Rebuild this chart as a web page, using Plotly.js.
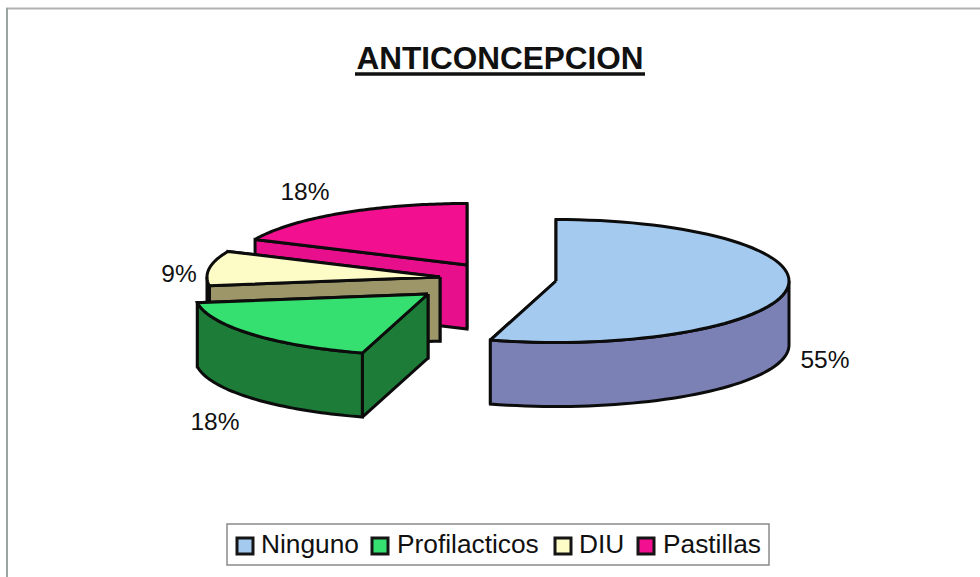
<!DOCTYPE html>
<html><head><meta charset="utf-8">
<script src="https://cdn.plot.ly/plotly-3.0.1.min.js"></script>
<style>html,body{margin:0;padding:0;background:#fff}#c{width:980px;height:577px}</style>
</head><body><div id="c"></div>
<script>
// Data
var categories = ['Ninguno','Profilacticos','DIU','Pastillas'];
var counts = [6,2,1,2];
// Styles
var topColors = ['#a4caef','#35e070','#fdfbc6','#f20f90'];
var wallColors = ['#7b80b5','#1c7c38','#9c9668','#e80f8c'];
// Layout of the exploded solid, in page pixels
var apexX = [556,428,440,467], apexY = [281,294,277,265];
var RX = 233, RY = 61.5, DEPTH = 64;
var labelX = [825,215,179,305], labelY = [362,424,276,194];
var legendMarkX = [245,380,563,646], legendTextX = [261,397,579,663], legendY = 546;

var total = counts.reduce(function(a,b){return a+b;},0);
var start = [], sum = 0;
counts.forEach(function(v,i){ start.push(sum/total*360); sum += v; });

function rim(i,deg,drop){
  var r = deg*Math.PI/180;
  return [apexX[i]+RX*Math.sin(r), apexY[i]-RY*Math.cos(r)+(drop||0)];
}
function poly(pts,fill,name){
  var xs = pts.map(function(p){return p[0];}), ys = pts.map(function(p){return p[1];});
  xs.push(xs[0]); ys.push(ys[0]);
  return {type:'scatter',mode:'lines',x:xs,y:ys,fill:'toself',fillcolor:fill,
    line:{color:'#0c0c0c',width:3,simplify:false},hoverinfo:'name',name:name,showlegend:false};
}
var traces = [];
[3,2,1,0].forEach(function(i){
  var a = start[i], b = a + counts[i]/total*360, k, d;
  var ap = [apexX[i],apexY[i]], apD = [apexX[i],apexY[i]+DEPTH];
  // radial walls: the hidden closing edge first, the facing opening edge over it
  [b,a].forEach(function(t){
    traces.push(poly([ap,rim(i,t),rim(i,t,DEPTH),apD],wallColors[i],categories[i]));
  });
  // outer wall (front part only)
  var f0 = Math.max(a,90), f1 = Math.min(b,270);
  if (f1 > f0){
    var up = [], dn = [];
    for (k=0;k<=48;k++){ d = f0+(f1-f0)*k/48; up.push(rim(i,d)); dn.unshift(rim(i,d,DEPTH)); }
    traces.push(poly(up.concat(dn),wallColors[i],categories[i]));
  }
  // top face
  var pts = [ap];
  for (k=0;k<=72;k++){ pts.push(rim(i,a+(b-a)*k/72)); }
  traces.push(poly(pts,topColors[i],categories[i]));
});
// percent labels
traces.push({type:'scatter',mode:'text',x:labelX,y:labelY,
  text:counts.map(function(v){return Math.round(v/total*100)+'%';}),
  textposition:'middle center',textfont:{family:'Liberation Sans, Arial, sans-serif',size:24.5,color:'#111'},
  hoverinfo:'skip',showlegend:false});
// legend
traces.push({type:'scatter',mode:'markers',x:legendMarkX,y:legendMarkX.map(function(){return legendY;}),
  marker:{symbol:'square',size:16,color:topColors,line:{color:'#151515',width:3}},
  hoverinfo:'skip',showlegend:false});
traces.push({type:'scatter',mode:'text',x:legendTextX,y:legendTextX.map(function(){return legendY;}),
  text:categories,textposition:'middle right',
  textfont:{family:'Liberation Sans, Arial, sans-serif',size:26.3,color:'#111'},
  hoverinfo:'skip',showlegend:false});

var layout = {
  width:980,height:577,margin:{l:0,r:0,t:0,b:0},paper_bgcolor:'#fff',plot_bgcolor:'#fff',showlegend:false,
  title:{text:'<b>ANTICONCEPCION</b>',x:0.5102,xanchor:'center',y:0.9,yanchor:'middle',
    font:{family:'Liberation Sans, Arial, sans-serif',size:31.5,color:'#111'}},
  xaxis:{range:[0,980],visible:false,fixedrange:true,domain:[0,1]},
  yaxis:{range:[577,0],visible:false,fixedrange:true,domain:[0,1]},
  shapes:[
    {type:'line',xref:'x',yref:'y',x0:6,y0:8.5,x1:980,y1:8.5,line:{color:'#b0b0b0',width:2},layer:'below'},
    {type:'line',xref:'x',yref:'y',x0:7,y0:8,x1:7,y1:577,line:{color:'#9aa5a0',width:2},layer:'below'},
    {type:'rect',xref:'x',yref:'y',x0:227,y0:524,x1:769,y1:565,line:{color:'#8a8a8a',width:1.5},fillcolor:'#fff',layer:'below'},
    {type:'line',xref:'x',yref:'y',x0:355,y0:74,x1:645,y1:74,line:{color:'#111',width:3.5},layer:'above'}
  ]
};
Plotly.newPlot('c',traces,layout,{displayModeBar:false,staticPlot:true});
</script></body></html>
